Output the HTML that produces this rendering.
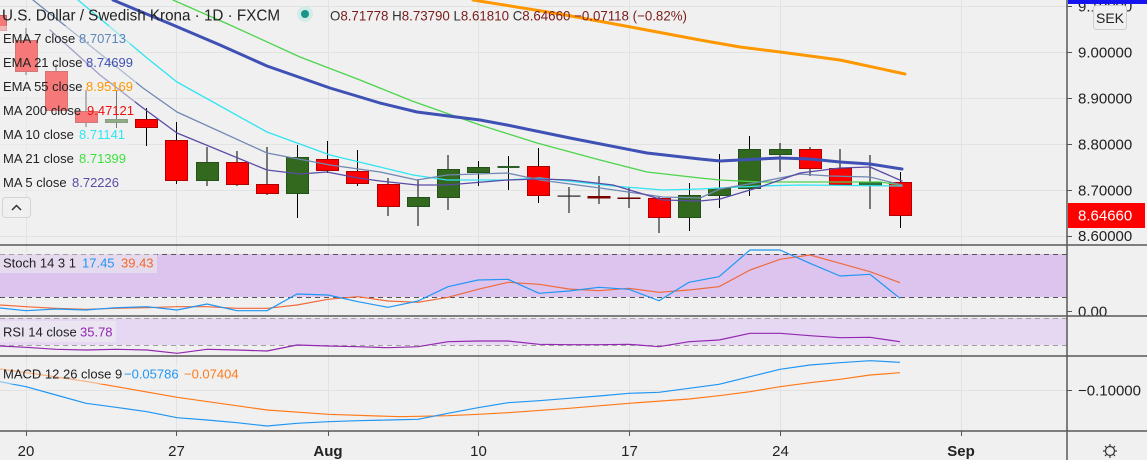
<!DOCTYPE html>
<html><head><meta charset="utf-8"><style>
html,body{margin:0;padding:0;background:#f0f0f0;}
svg{display:block;}
text{font-family:"Liberation Sans",sans-serif;}
</style></head><body>
<svg width="1147" height="460" viewBox="0 0 1147 460" xmlns="http://www.w3.org/2000/svg">
<defs>
<clipPath id="pc"><rect x="0" y="0" width="1067" height="245"/></clipPath>
<clipPath id="sc"><rect x="0" y="245" width="1067" height="71"/></clipPath>
<clipPath id="ac"><rect x="1068" y="245" width="79" height="71"/></clipPath>
</defs>
<rect width="1147" height="460" fill="#f0f0f0"/>
<!-- grid -->
<g stroke="#e2e2e2" stroke-width="1">
<line x1="26.5" y1="0" x2="26.5" y2="431"/>
<line x1="176.5" y1="0" x2="176.5" y2="431"/>
<line x1="328.5" y1="0" x2="328.5" y2="431"/>
<line x1="478.5" y1="0" x2="478.5" y2="431"/>
<line x1="629.5" y1="0" x2="629.5" y2="431"/>
<line x1="780.5" y1="0" x2="780.5" y2="431"/>
<line x1="961.5" y1="0" x2="961.5" y2="431"/>
<line x1="0" y1="6.5" x2="1067" y2="6.5"/>
<line x1="0" y1="52.5" x2="1067" y2="52.5"/>
<line x1="0" y1="98.5" x2="1067" y2="98.5"/>
<line x1="0" y1="144.5" x2="1067" y2="144.5"/>
<line x1="0" y1="190.5" x2="1067" y2="190.5"/>
<line x1="0" y1="236.5" x2="1067" y2="236.5"/>
<line x1="0" y1="390.5" x2="1067" y2="390.5"/>
</g>

<g clip-path="url(#pc)">
<!-- candles -->
<g stroke="#000" stroke-width="1">
<line x1="-4" y1="8" x2="-4" y2="34"/>
<line x1="26" y1="28" x2="26" y2="75"/>
<line x1="56" y1="64" x2="56" y2="114"/>
<line x1="86" y1="90" x2="86" y2="127"/>
<line x1="116.5" y1="90" x2="116.5" y2="128"/>
<line x1="146.5" y1="108" x2="146.5" y2="146"/>
<line x1="176.5" y1="122" x2="176.5" y2="184"/>
<line x1="207" y1="147" x2="207" y2="186"/>
<line x1="237" y1="151" x2="237" y2="186"/>
<line x1="267" y1="147" x2="267" y2="195"/>
<line x1="297.5" y1="145" x2="297.5" y2="218"/>
<line x1="327.5" y1="141" x2="327.5" y2="173"/>
<line x1="357.5" y1="150" x2="357.5" y2="186"/>
<line x1="388" y1="178" x2="388" y2="216"/>
<line x1="418" y1="179" x2="418" y2="226"/>
<line x1="448" y1="155" x2="448" y2="210"/>
<line x1="478.5" y1="161" x2="478.5" y2="186"/>
<line x1="508.5" y1="156" x2="508.5" y2="190"/>
<line x1="538.5" y1="148" x2="538.5" y2="203"/>
<line x1="569" y1="187" x2="569" y2="213"/>
<line x1="599" y1="176" x2="599" y2="204"/>
<line x1="629" y1="187" x2="629" y2="208"/>
<line x1="659" y1="196" x2="659" y2="233"/>
<line x1="689.5" y1="183" x2="689.5" y2="231"/>
<line x1="719.5" y1="154" x2="719.5" y2="208"/>
<line x1="749.5" y1="136" x2="749.5" y2="196"/>
<line x1="780" y1="143" x2="780" y2="172"/>
<line x1="810" y1="147" x2="810" y2="176"/>
<line x1="840" y1="149" x2="840" y2="186"/>
<line x1="870" y1="155" x2="870" y2="209"/>
<line x1="900.5" y1="172" x2="900.5" y2="228"/>
</g>
<g stroke-width="1">
<rect x="-15.5" y="15.5" width="22" height="15" fill="#f47878" stroke="#d06060"/>
<rect x="15.5" y="40.5" width="22" height="31" fill="#ff0000" stroke="#b00000"/>
<rect x="45.5" y="71.5" width="22" height="39" fill="#ff0000" stroke="#b00000"/>
<rect x="75.5" y="111.5" width="22" height="11" fill="#ff0000" stroke="#b00000"/>
<rect x="105.5" y="119.5" width="22" height="3" fill="#33691e" stroke="#24511a"/>
<rect x="135.5" y="119.5" width="22" height="8" fill="#ff0000" stroke="#b00000"/>
<rect x="165.5" y="140.5" width="22" height="40" fill="#ff0000" stroke="#b00000"/>
<rect x="196.5" y="162.5" width="22" height="18" fill="#33691e" stroke="#24511a"/>
<rect x="226.5" y="162.5" width="22" height="22" fill="#ff0000" stroke="#b00000"/>
<rect x="256.5" y="184.5" width="22" height="9" fill="#ff0000" stroke="#b00000"/>
<rect x="286.5" y="157.5" width="22" height="36" fill="#33691e" stroke="#24511a"/>
<rect x="316.5" y="159.5" width="22" height="11" fill="#ff0000" stroke="#b00000"/>
<rect x="346.5" y="171.5" width="22" height="12" fill="#ff0000" stroke="#b00000"/>
<rect x="377.5" y="184.5" width="22" height="22" fill="#ff0000" stroke="#b00000"/>
<rect x="407.5" y="197.5" width="22" height="9" fill="#33691e" stroke="#24511a"/>
<rect x="437.5" y="169.5" width="22" height="28" fill="#33691e" stroke="#24511a"/>
<rect x="467.5" y="167.5" width="22" height="5" fill="#33691e" stroke="#24511a"/>
<rect x="497.5" y="166" width="22" height="2" fill="#2e5f2a" stroke="none"/>
<rect x="527.5" y="166.5" width="22" height="29" fill="#ff0000" stroke="#b00000"/>
<rect x="557.5" y="195.5" width="23" height="1.2" fill="#222" stroke="none"/>
<rect x="587.5" y="196" width="23" height="2.5" fill="#7a0000" stroke="none"/>
<rect x="617.5" y="197.5" width="23" height="1.5" fill="#6a0000" stroke="none"/>
<rect x="648.5" y="198.5" width="22" height="19" fill="#ff0000" stroke="#b00000"/>
<rect x="678.5" y="195.5" width="22" height="22" fill="#33691e" stroke="#24511a"/>
<rect x="708.5" y="188.5" width="22" height="7" fill="#33691e" stroke="#24511a"/>
<rect x="738.5" y="149.5" width="22" height="39" fill="#33691e" stroke="#24511a"/>
<rect x="769.5" y="149.5" width="22" height="5" fill="#33691e" stroke="#24511a"/>
<rect x="799.5" y="149.5" width="22" height="19" fill="#ff0000" stroke="#b00000"/>
<rect x="829.5" y="168.5" width="22" height="16" fill="#ff0000" stroke="#b00000"/>
<rect x="859.5" y="182.5" width="22" height="3" fill="#2b7040" stroke="#24511a"/>
<rect x="889.5" y="182.5" width="22" height="33" fill="#ff0000" stroke="#b00000"/>
</g>
<!-- MA lines -->
<g fill="none" stroke-linejoin="round" stroke-linecap="round">
<polyline stroke="#ff9800" stroke-width="3" points="473,0 560,14 620,25 700,40 740,47 780,52 840,60 905,74"/>
<polyline stroke="#4cd44c" stroke-width="1.3" points="173,0 230,25 300,57 360,80 412,101 480,125 537,143 600,160 647,172 700,178 720,180 760,182 840,182 880,182 902,185"/>
<polyline stroke="#3f51b5" stroke-width="3" points="113,0 173,25 220,45 267,66 330,88 380,103 417,112 480,120 507,125 570,138 647,153 700,159 720,161 760,159 780,158 810,159 840,162 870,164 902,169"/>
<polyline stroke="#30e4f2" stroke-width="1.3" points="78,0 147,58 177,82 267,132 330,155 380,167 413,175 447,180 507,180 540,178 613,186 663,190 700,189 720,188 760,186 800,185 902,186"/>
<polyline stroke="#7088b2" stroke-width="1.3" points="33,0 143,88 177,112 267,153 330,165 380,172 417,180 447,175 507,173 540,180 600,188 663,197 700,198 720,189 760,182 800,174 830,176 870,177 902,185"/>
<polyline stroke="#5a4ca6" stroke-width="1.3" points="50,30 100,75 143,108 177,133 267,170 300,174 327,172 358,178 380,181 417,185 447,185 507,180 540,179 570,180 613,185 663,200 700,201 720,199 760,187 800,173 840,168 870,167 902,181"/>
</g>
</g>

<!-- legend backgrounds -->
<g fill="#f0f0f0" fill-opacity="0.5">
<rect x="0" y="26" width="130" height="24"/>
<rect x="0" y="50" width="136" height="24"/>
<rect x="0" y="74" width="136" height="24"/>
<rect x="0" y="98" width="135" height="24"/>
<rect x="0" y="122" width="128" height="24"/>
<rect x="0" y="146" width="129" height="24"/>
<rect x="0" y="170" width="121" height="24"/>
</g>

<!-- header -->
<text x="2" y="20.5" font-size="16" fill="#222" textLength="278" lengthAdjust="spacingAndGlyphs">U.S. Dollar / Swedish Krona · 1D · FXCM</text>
<circle cx="305" cy="14" r="8" fill="#d3ebe7"/>
<circle cx="305" cy="14" r="4" fill="#16958a"/>
<text x="330" y="20.5" font-size="14" fill="#333" textLength="357" lengthAdjust="spacingAndGlyphs">O<tspan fill="#7a1c1c">8.71778</tspan> H<tspan fill="#7a1c1c">8.73790</tspan> L<tspan fill="#7a1c1c">8.61810</tspan> C<tspan fill="#7a1c1c">8.64660</tspan> <tspan fill="#7a1c1c">−0.07118 (−0.82%)</tspan></text>

<!-- legend text -->
<g font-size="13" fill="#222">
<text x="3" y="43">EMA 7 close</text><text x="79" y="43" fill="#5b86b8">8.70713</text>
<text x="3" y="67">EMA 21 close</text><text x="86" y="67" fill="#3f51b5">8.74699</text>
<text x="3" y="91">EMA 55 close</text><text x="86" y="91" fill="#ff9800">8.95169</text>
<text x="3" y="115">MA 200 close</text><text x="87" y="115" fill="#f01010">9.47121</text>
<text x="3" y="139">MA 10 close</text><text x="79" y="139" fill="#2ee6f5">8.71141</text>
<text x="3" y="163">MA 21 close</text><text x="79" y="163" fill="#3ee03e">8.71399</text>
<text x="3" y="187">MA 5 close</text><text x="72" y="187" fill="#5a4ca6">8.72226</text>
</g>
<rect x="2.5" y="197.5" width="28" height="20" rx="3" fill="#f0f0f0" stroke="#d4d4d4"/>
<polyline points="12,210 16.5,205.5 21,210" fill="none" stroke="#333" stroke-width="1.5"/>

<!-- stochastic panel -->
<rect x="0" y="254" width="1067" height="43" fill="#dcc4ef"/>
<g stroke="#555" stroke-width="1" stroke-dasharray="5,4">
<line x1="0" y1="254.5" x2="1067" y2="254.5"/>
<line x1="0" y1="297.5" x2="1067" y2="297.5"/>
</g>
<g clip-path="url(#sc)" fill="none" stroke-linejoin="round">
<polyline stroke="#f06a3a" stroke-width="1.2" points="0,305 26,306.7 56,308.3 86,309.3 116,308.3 147,307.7 177,306.7 207,306.7 237,308.3 267,308.3 297,305 328,299.3 358,296.7 388,301 418,302.3 448,297.3 478,289.3 508,282.3 539,284.3 569,289 599,290.7 629,288.3 659,292.3 689,290 719,286.7 750,270 780,259.3 810,255 840,263.3 870,271.7 900,282.7"/>
<polyline stroke="#2196f3" stroke-width="1.2" points="0,308 26,310.7 56,309 86,310 116,307.7 147,306.7 177,310 207,304 237,310.7 267,310.7 297,294 328,295 358,301.7 388,307.3 418,301 448,286.7 478,280 508,279.3 539,293.3 569,291 599,287.3 629,289.3 659,300.7 689,282.3 719,276.7 750,250 780,250 810,263.3 840,276 870,274.3 900,298.3"/>
</g>
<rect x="0" y="252" width="157" height="21" fill="#f0f0f0" fill-opacity="0.5"/>
<g font-size="13"><text x="3" y="267.5" fill="#222">Stoch 14 3 1</text><text x="82" y="267.5" fill="#2196f3">17.45</text><text x="121" y="267.5" fill="#f06a2a">39.43</text></g>

<!-- RSI panel -->
<rect x="0" y="318" width="1067" height="27" fill="#e6d8f2"/>
<g stroke="#a0a0a0" stroke-width="1" stroke-dasharray="5,4">
<line x1="0" y1="318.5" x2="1067" y2="318.5"/>
<line x1="0" y1="345.5" x2="1067" y2="345.5"/>
</g>
<polyline fill="none" stroke="#9327b0" stroke-width="1.2" stroke-linejoin="round" points="0,346 26,347.3 56,349.3 86,350 116,349.3 147,350 177,353.3 207,349.3 237,350 267,351 297,345 328,346 358,346.7 388,347.7 418,346.7 448,341.7 478,341 508,341 539,344.3 569,344.7 599,344.7 629,344.3 659,346.7 689,341.7 719,340 750,333.3 780,333.3 810,335.7 840,337.7 870,337.3 900,341.7"/>
<rect x="0" y="321" width="116" height="21" fill="#f0f0f0" fill-opacity="0.5"/>
<g font-size="13"><text x="3" y="336.5" fill="#222">RSI 14 close</text><text x="80" y="336.5" fill="#9327b0">35.78</text></g>

<!-- MACD panel -->
<g fill="none" stroke-linejoin="round">
<polyline stroke="#ff7a1a" stroke-width="1.2" points="0,369 43,375 90,382 177,397.3 267,410 328,414.3 400,416.7 448,415.7 478,414.3 508,412.7 569,408.3 629,403.3 689,399 719,395.7 750,391.7 780,386.7 810,382.7 840,379.3 870,375 900,372.7"/>
<polyline stroke="#2196f3" stroke-width="1.2" points="0,381.7 26,386.7 56,395 86,403.3 116,407.3 147,411.7 177,417.7 207,420 237,422.7 267,426 297,423.3 328,421.7 358,420.7 388,420 418,419.3 448,413.3 478,407.7 508,402.7 539,400.7 569,398.3 599,396 629,393.3 659,392.3 689,388.3 719,384.3 750,376.7 780,369.3 810,365 840,362.7 870,360.7 900,362.3"/>
</g>
<rect x="0" y="364" width="240" height="20" fill="#f0f0f0" fill-opacity="0.5"/>
<g font-size="13"><text x="3" y="378.5" fill="#222">MACD 12 26 close 9</text><text x="124" y="378.5" fill="#2196f3">−0.05786</text><text x="184" y="378.5" fill="#ff7a1a">−0.07404</text></g>

<!-- right axis -->
<g font-size="15" fill="#222">
<text x="1078" y="11.3">9.10000</text>
<text x="1078" y="57.3">9.00000</text>
<text x="1078" y="103.3">8.90000</text>
<text x="1078" y="149.3">8.80000</text>
<text x="1078" y="195.5">8.70000</text>
<text x="1078" y="241">8.60000</text>
<text x="1078" y="395.3">−0.10000</text>
</g>
<g clip-path="url(#ac)"><text x="1078" y="316.5" font-size="15" fill="#222">0.00</text></g>
<g stroke="#555" stroke-width="1">
<line x1="1067" y1="6.5" x2="1072" y2="6.5"/>
<line x1="1067" y1="52.5" x2="1072" y2="52.5"/>
<line x1="1067" y1="98.5" x2="1072" y2="98.5"/>
<line x1="1067" y1="144.5" x2="1072" y2="144.5"/>
<line x1="1067" y1="190.5" x2="1072" y2="190.5"/>
<line x1="1067" y1="236.5" x2="1072" y2="236.5"/>
<line x1="1067" y1="311.5" x2="1072" y2="311.5"/>
<line x1="1067" y1="390.5" x2="1072" y2="390.5"/>
</g>
<rect x="1068" y="203" width="77" height="25" fill="#ff0000"/>
<text x="1078" y="220.5" font-size="15" fill="#ffffff">8.64660</text>
<rect x="1068" y="0" width="79" height="4" fill="#1414f0"/>
<rect x="1093.5" y="5.5" width="33" height="24" rx="3" fill="#f0f0f0" stroke="#cfcfcf"/>
<text x="1110" y="23" font-size="14" fill="#222" text-anchor="middle">SEK</text>

<!-- separators -->
<g stroke="#585858" stroke-width="1.5">
<line x1="0" y1="245" x2="1147" y2="245"/>
<line x1="0" y1="316" x2="1147" y2="316"/>
<line x1="0" y1="356" x2="1147" y2="356"/>
<line x1="0" y1="431" x2="1147" y2="431"/>
<line x1="1067" y1="0" x2="1067" y2="460"/>
</g>

<!-- time axis -->
<g stroke="#555" stroke-width="1">
<line x1="26.5" y1="431" x2="26.5" y2="436"/>
<line x1="176.5" y1="431" x2="176.5" y2="436"/>
<line x1="328.5" y1="431" x2="328.5" y2="436"/>
<line x1="478.5" y1="431" x2="478.5" y2="436"/>
<line x1="629.5" y1="431" x2="629.5" y2="436"/>
<line x1="780.5" y1="431" x2="780.5" y2="436"/>
<line x1="961.5" y1="431" x2="961.5" y2="436"/>
</g>
<g font-size="15" fill="#222" text-anchor="middle">
<text x="26" y="456">20</text>
<text x="176.5" y="456">27</text>
<text x="328" y="456" font-weight="bold">Aug</text>
<text x="478.5" y="456">10</text>
<text x="629.5" y="456">17</text>
<text x="780.5" y="456">24</text>
<text x="961" y="456" font-weight="bold">Sep</text>
</g>
<!-- gear -->
<g stroke="#333" stroke-width="1.2" fill="none">
<circle cx="1110" cy="451" r="4.5"/>
<line x1="1110" y1="444" x2="1110" y2="446"/>
<line x1="1110" y1="456" x2="1110" y2="458"/>
<line x1="1103" y1="451" x2="1105" y2="451"/>
<line x1="1115" y1="451" x2="1117" y2="451"/>
<line x1="1105" y1="446" x2="1106.4" y2="447.4"/>
<line x1="1113.6" y1="454.6" x2="1115" y2="456"/>
<line x1="1115" y1="446" x2="1113.6" y2="447.4"/>
<line x1="1106.4" y1="454.6" x2="1105" y2="456"/>
</g>
</svg>
</body></html>
